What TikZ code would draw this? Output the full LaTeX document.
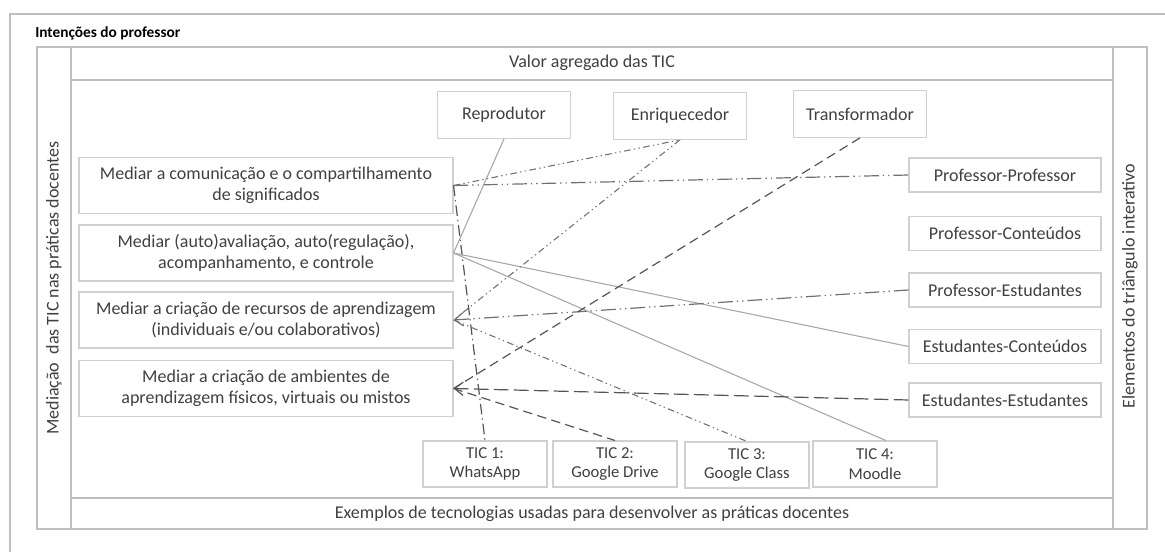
\documentclass[tikz,border=0pt]{standalone}
\usepackage{fontspec}
\setmainfont{Carlito}
\usepackage{tikz}
\usetikzlibrary{arrows.meta}

\definecolor{framegray}{HTML}{BFBFBF}
\definecolor{boxgray}{HTML}{D0D0D0}
\definecolor{textgray}{HTML}{404040}
\definecolor{linelight}{HTML}{A6A6A6}
\definecolor{linemid}{HTML}{707070}
\definecolor{linedark}{HTML}{555555}

\begin{document}
\begin{tikzpicture}[x=0.75pt, y=-0.75pt,
    frame/.style={draw=framegray, line width=1.1pt},
    lbl/.style={text=textgray, font=\fontsize{13.5}{15.75}\selectfont},
    box/.style={lbl, draw=boxgray, line width=0.8pt, align=center, inner sep=0pt},
    intent/.style={box, minimum width=280.5pt, minimum height=42pt},
    value/.style={box, minimum width=99.5pt, minimum height=35pt},
    relation/.style={box, minimum width=144pt, minimum height=25.5pt},
    tic/.style={box, font=\fontsize{12.5}{14.5}\selectfont, minimum width=93pt, minimum height=34.5pt},
    solidlink/.style={draw=linelight, line width=0.8pt},
    dashlink/.style={draw=linedark, line width=0.9pt, dash pattern=on 7pt off 4pt},
    dotlink/.style={draw=linemid, line width=0.8pt, dash pattern=on 5pt off 2.5pt on 1pt off 2.5pt on 1pt off 2.5pt},
    longdotlink/.style={draw=linemid, line width=0.9pt, dash pattern=on 11pt off 3pt on 1pt off 3pt on 1pt off 3pt},
    barb/.style={-{Straight Barb[length=6.5pt, width=10pt]}}]

    \useasboundingbox (0, 0) rectangle (1165, 552);

    \draw[frame] (10, 552) -- (10, 14) -- (1165, 14);
    \node[anchor=west, font=\fontsize{11.5}{13}\selectfont\bfseries, inner sep=0pt] (title) at (35, 33) {Intenções do professor};

    \draw[frame] (37, 47) rectangle (1147, 529);
    \draw[frame] (71, 47) -- (71, 529);
    \draw[frame] (1113, 47) -- (1113, 529);
    \draw[frame] (71, 80) -- (1113, 80);
    \draw[frame] (71, 498) -- (1113, 498);

    \node[lbl] (valor) at (592, 63) {Valor agregado das TIC};
    \node[lbl] (exemplos) at (592, 514) {Exemplos de tecnologias usadas para desenvolver as práticas docentes};
    \node[lbl, rotate=90] (mediacao) at (54, 288) {Mediação\ \ das TIC nas práticas docentes};
    \node[lbl, rotate=90] (elementos) at (1130, 286) {Elementos do triângulo interativo};

    \node[intent] (m1) at (266, 185.5) {Mediar a comunicação e o compartilhamento\\de significados};
    \node[intent] (m2) at (266, 253) {Mediar (auto)avaliação, auto(regulação),\\acompanhamento, e controle};
    \node[intent] (m3) at (266, 320) {Mediar a criação de recursos de aprendizagem\\(individuais e/ou colaborativos)};
    \node[intent] (m4) at (266, 388.5) {Mediar a criação de ambientes de\\aprendizagem físicos, virtuais ou mistos};

    \node[value] (rep) at (504, 115) {Reprodutor};
    \node[value] (enr) at (680, 116) {Enriquecedor};
    \node[value] (tra) at (860, 114) {Transformador};

    \node[relation] (pp) at (1005, 175) {Professor-Professor};
    \node[relation] (pc) at (1005, 233.5) {Professor-Conteúdos};
    \node[relation] (pe) at (1005, 290) {Professor-Estudantes};
    \node[relation] (ec) at (1005, 346.5) {Estudantes-Conteúdos};
    \node[relation] (ee) at (1005, 400) {Estudantes-Estudantes};

    \node[tic] (tic1) at (485, 464) {TIC 1:\\WhatsApp};
    \node[tic] (tic2) at (615, 464) {TIC 2:\\Google Drive};
    \node[tic] (tic3) at (747, 465) {TIC 3:\\Google Class};
    \node[tic] (tic4) at (875, 464) {TIC 4:\\Moodle};

    \draw[dotlink] (m1.east) -- (enr.south);
    \draw[longdotlink] (m1.east) -- (pp.west);
    \draw[linedark, line width=0.9pt, dash pattern=on 8pt off 3pt on 1pt off 3pt] (m1.east) -- (tic1.north);

    \draw[solidlink] (m2.east) -- (rep.south);
    \draw[solidlink] (m2.east) -- (ec.west);
    \draw[solidlink] (m2.east) -- ([xshift=8pt]tic4.north);

    \draw[dotlink] (enr.south) -- (m3.east);
    \draw[longdotlink, barb] (pe.west) -- (m3.east);
    \draw[dotlink] (m3.east) -- (tic3.north);

    \draw[dashlink] (tra.south) -- (m4.east);
    \draw[dashlink, dash pattern=on 11pt off 4pt, barb] (ee.west) -- (m4.east);
    \draw[dashlink] (m4.east) -- (tic2.north);
\end{tikzpicture}
\end{document}
